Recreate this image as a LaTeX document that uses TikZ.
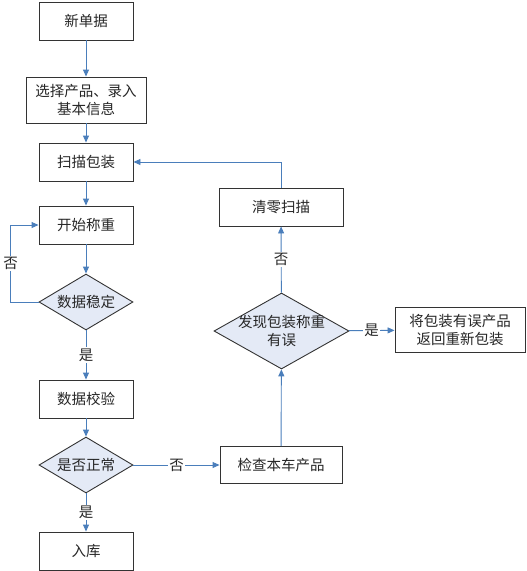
\documentclass[tikz,border=0pt]{standalone}
\usepackage{fontspec}
\setmainfont{Noto Sans CJK SC}
\usetikzlibrary{shapes.geometric,arrows.meta}
\definecolor{linkblue}{HTML}{4A7EBB}
\definecolor{fillblue}{HTML}{E4EAF6}
\definecolor{edgegray}{HTML}{333333}

\begin{document}
\begin{tikzpicture}[x=1pt,y=1pt]
	\tikzstyle{every node}+=[inner sep=0pt,text=black!85,font=\fontsize{14.5}{18}\selectfont]
	\tikzstyle{box}=[draw=edgegray,line width=0.9pt,minimum width=94pt,minimum height=38pt,align=center]
	\tikzstyle{test}=[diamond,draw=edgegray,line width=0.9pt,fill=fillblue,shape aspect=1.7,minimum width=94pt,minimum height=56pt]
	\tikzstyle{flow}=[linkblue,line width=0.9pt,-{Triangle[length=7pt,width=6pt]}]
	\tikzstyle{tag}=[fill=white,inner sep=1.5pt]
	\useasboundingbox (0,0) rectangle (527,-571);
	\node [box] (new) at (86,-21) {新单据};
	\node [box,minimum width=120pt,minimum height=46pt] (input) at (86,-100) {选择产品、录入\\基本信息};
	\node [box] (scan) at (86,-162) {扫描包装};
	\node [box] (weigh) at (86,-225) {开始称重};
	\node [test] (stable) at (86,-302) {数据稳定};
	\node [box] (verify) at (86,-399) {数据校验};
	\node [test] (normal) at (86,-465) {是否正常};
	\node [box] (store) at (86,-551) {入库};
	\node [box,minimum width=122pt,minimum height=37pt] (check) at (281,-465) {检查本车产品};
	\node [test,shape aspect=1.78,minimum width=135pt,minimum height=76pt,label={[align=center]center:发现包装称重\\有误}] (report) at (281.5,-331) {};
	\node [box,minimum width=124pt] (zero) at (281,-207) {清零扫描};
	\node [box,minimum width=130pt,minimum height=45pt] (redo) at (460,-330) {将包装有误产品\\返回重新包装};
	\draw [flow] (new) -- (input);
	\draw [flow] (input) -- (scan);
	\draw [flow] (scan) -- (weigh);
	\draw [flow] (weigh) -- (stable);
	\draw [flow] (stable.west) -- ++(-28,0) |- node [tag,pos=0.25] {否} (weigh.west);
	\draw [flow] (stable) -- node [tag] {是} (verify);
	\draw [flow] (verify) -- (normal);
	\draw [flow] (normal) -- node [tag] {是} (store);
	\draw [flow] (normal) -- node [tag] {否} (check);
	\draw [flow] (check) -- (report);
	\draw [flow] (report) -- node [tag] {否} (zero);
	\draw [flow] (report) -- node [tag] {是} (redo);
	\draw [flow] (zero.north) |- (scan.east);
\end{tikzpicture}
\end{document}
